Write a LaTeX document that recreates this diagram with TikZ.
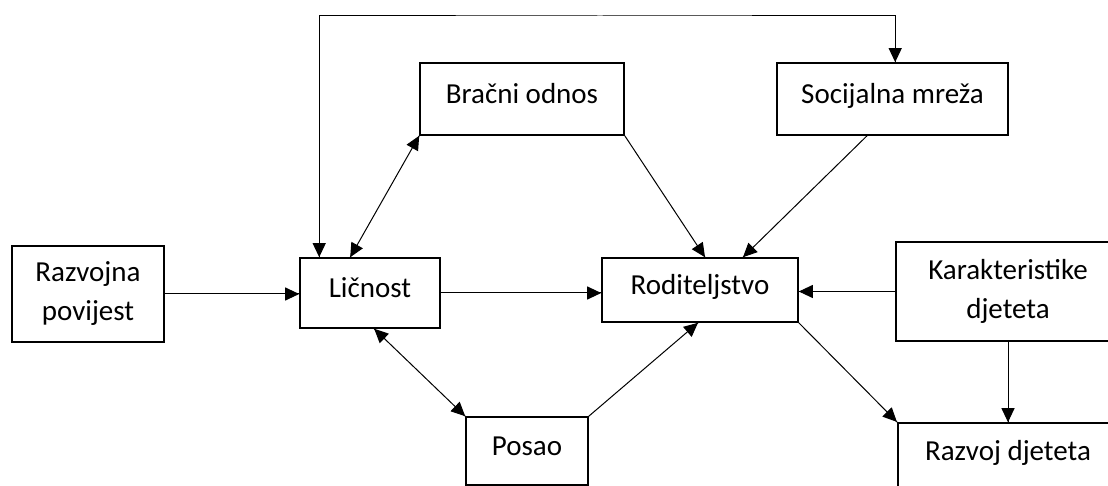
\documentclass[tikz,border=0pt]{standalone}
\usepackage{fontspec}
\setmainfont{Carlito}
\usepackage{tikz}
\usetikzlibrary{arrows.meta}
\usetikzlibrary{decorations.markings}
\tikzset{fwd/.style = {decoration={markings,
                                   mark=at position 1 with {\arrow{Triangle[length=14pt,width=13pt]}}},
                       postaction={decorate}}}
\tikzset{twoway/.style = {decoration={markings,
                                      mark=at position 0 with {\arrowreversed{Triangle[length=14pt,width=13pt]}},
                                      mark=at position 1 with {\arrow{Triangle[length=14pt,width=13pt]}}},
                          postaction={decorate}}}
\tikzset{box/.style = {draw, line width=1.6pt, rectangle, align=center, inner sep=0pt,
                       font=\fontsize{29}{39}\selectfont}}
\tikzset{onebox/.style = {box, text height=19pt, text depth=10pt}}

\begin{document}
\begin{tikzpicture}[x=1pt, y=-1pt, line width=1pt]
    \useasboundingbox (0, 0) rectangle (1108, 486);
    \clip (0, 0) rectangle (1108, 486);

    \node [box, minimum width=152, minimum height=96] (razvoj) at (88, 294) {Razvojna\\povijest};
    \node [onebox, minimum width=140, minimum height=70] (licnost) at (370, 293) {Ličnost};
    \node [onebox, minimum width=204, minimum height=72] (bracni) at (522, 99) {Bračni odnos};
    \node [onebox, minimum width=231, minimum height=72] (socijalna) at (892.5, 99) {Socijalna mreža};
    \node [onebox, minimum width=196, minimum height=64] (roditeljstvo) at (700, 290) {Roditeljstvo};
    \node [box, minimum width=224, minimum height=99] (karakteristike) at (1008, 291.5) {Karakteristike\\djeteta};
    \node [onebox, minimum width=122, minimum height=68] (posao) at (527, 451) {Posao};
    \node [onebox, minimum width=220, minimum height=66] (djete) at (1008, 456) {Razvoj djeteta};

    \coordinate (vrh) at (600, 16);

    \draw [fwd] (razvoj.east) -- (razvoj.east -| licnost.west);
    \draw [fwd] (licnost.east) -- (licnost.east -| roditeljstvo.west);
    \draw [fwd] (karakteristike.west) -- (karakteristike.west -| roditeljstvo.east);
    \draw [twoway] ([xshift=51]licnost.north west) -- (bracni.south west);
    \draw [fwd] (bracni.south east) -- ([xshift=5]roditeljstvo.north);
    \draw [fwd] ([xshift=-25.5]socijalna.south) -- ([xshift=43]roditeljstvo.north);
    \draw [twoway] ([xshift=20]licnost.north west) |- (vrh) -| ([xshift=119]socijalna.north west);
    \draw [twoway] ([xshift=75]licnost.south west) -- (posao.north west);
    \draw [fwd] (posao.north east) -- ([xshift=-2]roditeljstvo.south);
    \draw [fwd] (roditeljstvo.south east) -- (djete.north west);
    \draw [fwd] (karakteristike.south) -- (djete.north -| karakteristike.south);
  \end{tikzpicture}
\end{document}
